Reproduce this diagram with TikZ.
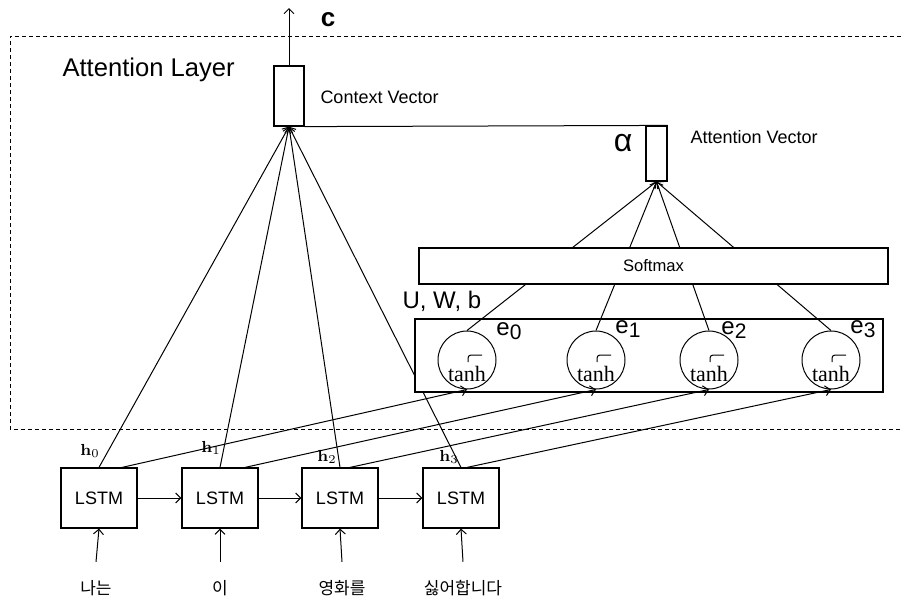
\documentclass[tikz,border=0pt]{standalone}
\usepackage[no-math]{fontspec}
\setmainfont{Liberation Sans}
\newfontfamily\tanhfont{Liberation Serif}
\newfontfamily\krfont{Noto Sans CJK KR}
\usetikzlibrary{arrows.meta}
\begin{document}
\begin{tikzpicture}[x=0.5pt, y=-0.5pt, >={Straight Barb[length=2.5pt, width=5pt]}, line width=0.5pt,
  box/.style={draw, fill=white, line width=0.6pt, inner sep=0pt},
  lstm/.style={box, minimum width=38pt, minimum height=30pt, font=\fontsize{9}{9}\selectfont},
  gate/.style={draw, circle, fill=white, minimum size=29pt, inner sep=0pt},
  tanhlab/.style={font=\tanhfont\fontsize{11}{11}\selectfont, inner sep=0pt},
  word/.style={font=\krfont\fontsize{8.5}{8.5}\selectfont, inner sep=1pt},
  hlab/.style={font=\footnotesize, inner sep=0pt},
  elab/.style={font=\fontsize{12}{12}\selectfont, inner sep=0pt},
  note/.style={font=\fontsize{9}{9}\selectfont, anchor=west, inner sep=0pt}]

  \useasboundingbox (0,0) rectangle (901,601);

  % attention layer frame
  \draw[dash pattern=on 2pt off 1.5pt] (901,36) -- (10,36) -- (10,429) -- (901,429);
  \node[anchor=west, font=\fontsize{12.8}{13}\selectfont, inner sep=0pt] (title) at (62,70) {Attention Layer};

  % encoder
  \node[lstm] (l0) at (99,498) {LSTM};
  \node[lstm] (l1) at (220,498) {LSTM};
  \node[lstm] (l2) at (340,498) {LSTM};
  \node[lstm] (l3) at (461,498) {LSTM};

  \node[word] (w0) at (96,588) {나는};
  \node[word] (w1) at (220,588) {이};
  \node[word] (w2) at (342,588) {영화를};
  \node[word] (w3) at (463,588) {싫어합니다};

  \draw[->] ([yshift=8pt]w0.north) -- (l0.south);
  \draw[->] ([yshift=8pt]w1.north) -- (l1.south);
  \draw[->] ([yshift=8pt]w2.north) -- (l2.south);
  \draw[->] ([yshift=8pt]w3.north) -- (l3.south);

  \draw[->] (l0.east) -- (l1.west);
  \draw[->] (l1.east) -- (l2.west);
  \draw[->] (l2.east) -- (l3.west);

  \node[hlab] (h0) at (90,451) {$\mathbf{h}_0$};
  \node[hlab] (h1) at (211,448) {$\mathbf{h}_1$};
  \node[hlab] (h2) at (327,457) {$\mathbf{h}_2$};
  \node[hlab] (h3) at (449,457) {$\mathbf{h}_3$};

  % vectors
  \node[box, minimum width=15pt, minimum height=30pt] (ctx) at (289,96) {};
  \node[box, minimum width=10.5pt, minimum height=27.5pt] (att) at (656.5,153.5) {};
  \node[note] at (320,97) {Context Vector};
  \node[note] at (690,137) {Attention Vector};
  \node[font=\fontsize{16}{16}\selectfont, inner sep=0pt] at (623,143) {α};

  \coordinate (cout) at (289,8);
  \draw[->] (ctx.north) -- (cout);
  \node[font=\bfseries\fontsize{13}{13}\selectfont, inner sep=0pt] at (328,20) {c};
  \draw (ctx.south east) -- (att.north east);

  \draw[->] (l0.north) -- (ctx.south);
  \draw[->] (l1.north) -- (ctx.south);
  \draw[->] (l2.north) -- (ctx.south);
  \draw[->] (l3.north) -- (ctx.south);

  % score layer
  \node[box, minimum width=234pt, minimum height=36.5pt] (score) at (649,355.5) {};
  \node[anchor=west, font=\fontsize{12}{12}\selectfont, inner sep=0pt] at (402,301) {U, W, b};

  \node[gate] (c0) at (467,360) {};
  \node[gate] (c1) at (596,360) {};
  \node[gate] (c2) at (709,360) {};
  \node[gate] (c3) at (831,360) {};

  \node[tanhlab] at (467,374) {tanh};
  \node[tanhlab] at (596,374) {tanh};
  \node[tanhlab] at (709,374) {tanh};
  \node[tanhlab] at (831,374) {tanh};

  \draw[rounded corners=1.5pt] (468,362) -- (468,355) -- (482,355);
  \draw[rounded corners=1.5pt] (597,362) -- (597,355) -- (611,355);
  \draw[rounded corners=1.5pt] (710,362) -- (710,355) -- (724,355);
  \draw[rounded corners=1.5pt] (832,362) -- (832,355) -- (846,355);

  \node[elab] at (509,331) {e\raisebox{-0.35ex}{\fontsize{10.5}{10.5}\selectfont 0}};
  \node[elab] at (628,329) {e\raisebox{-0.35ex}{\fontsize{10.5}{10.5}\selectfont 1}};
  \node[elab] at (734,330) {e\raisebox{-0.35ex}{\fontsize{10.5}{10.5}\selectfont 2}};
  \node[elab] at (863,329) {e\raisebox{-0.35ex}{\fontsize{10.5}{10.5}\selectfont 3}};

  \draw[->] ([xshift=11.5pt]l0.north) -- (c0.south);
  \draw[->] ([xshift=12.5pt]l1.north) -- (c1.south);
  \draw[->] ([xshift=5pt]l2.north) -- (c2.south);
  \draw[->] ([xshift=3pt]l3.north) -- (c3.south);

  \draw[->] (c0.north) -- (att.south);
  \draw[->] (c1.north) -- (att.south);
  \draw[->] (c2.north) -- (att.south);
  \draw[->] (c3.north) -- (att.south);

  % softmax
  \node[box, minimum width=234.5pt, minimum height=18pt, font=\fontsize{8.3}{8.3}\selectfont] (soft) at (653.5,266) {Softmax};
\end{tikzpicture}
\end{document}
